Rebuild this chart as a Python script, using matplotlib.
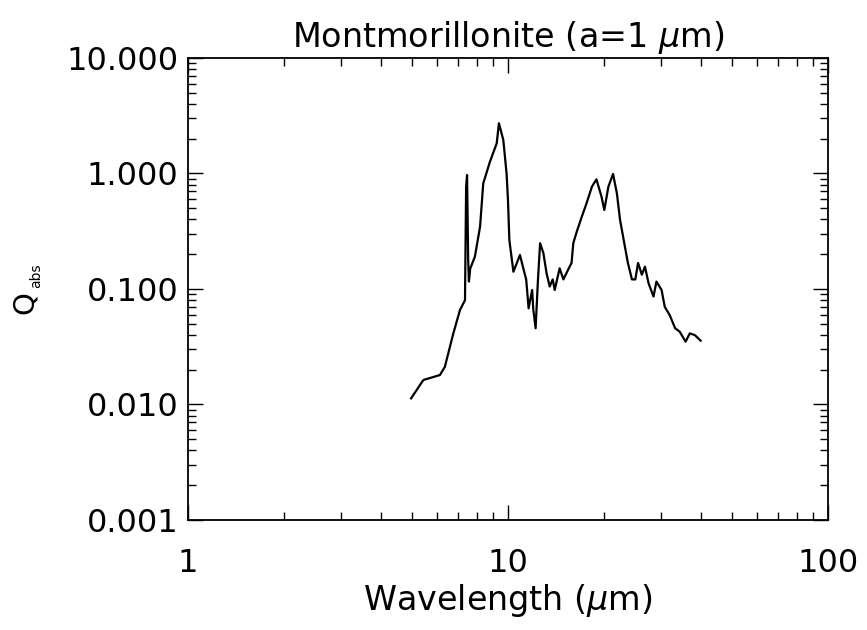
import matplotlib
matplotlib.use("Agg")
import matplotlib.pyplot as plt
from matplotlib.ticker import LogLocator, FormatStrFormatter, FixedLocator, NullFormatter

# wavelength (micron) and absorption efficiency
wavelength = [4.98, 5.44, 6.13, 6.35, 6.75, 7.08, 7.34, 7.40, 7.45, 7.51, 7.55, 7.62,
              7.88, 8.18, 8.37, 8.78, 9.22, 9.37, 9.67, 9.90, 10.0, 10.1, 10.4, 10.9,
              11.2, 11.4, 11.6, 11.9, 12.0, 12.2, 12.4, 12.6, 12.9, 13.2, 13.5, 13.8,
              14.0, 14.5, 14.9, 15.4, 15.8, 16.0, 16.4, 17.0, 17.6, 18.3, 18.9, 19.6,
              20.0, 20.6, 21.3, 21.9, 22.4, 23.2, 23.7, 24.4, 25.0, 25.5, 26.2, 26.8,
              27.5, 28.5, 29.1, 30.2, 30.9, 32.0, 33.3, 34.4, 35.9, 37.0, 38.4, 40.0]
q_abs = [0.0113, 0.0163, 0.018, 0.0212, 0.0413, 0.0658, 0.080, 0.769, 0.97, 0.178, 0.116, 0.15,
         0.19, 0.346, 0.82, 1.26, 1.82, 2.72, 1.95, 1.0, 0.59, 0.265, 0.141, 0.197,
         0.146, 0.121, 0.068, 0.098, 0.066, 0.0457, 0.116, 0.249, 0.205, 0.137, 0.105, 0.121,
         0.098, 0.151, 0.121, 0.146, 0.168, 0.249, 0.313, 0.42, 0.552, 0.77, 0.89, 0.63,
         0.483, 0.77, 0.99, 0.67, 0.396, 0.232, 0.168, 0.121, 0.121, 0.168, 0.133, 0.156,
         0.112, 0.086, 0.116, 0.098, 0.070, 0.0596, 0.0457, 0.0427, 0.035, 0.0413, 0.0398, 0.0357]

x_ticks = [1, 10, 100]
x_ticklabels = ["1", "10", "100"]
y_ticks = [0.001, 0.01, 0.1, 1, 10]

plt.rcParams['font.family'] = ['DejaVu Sans']

fig = plt.figure(figsize=(8.67, 6.3), dpi=100)
ax = fig.add_axes([0.2168, 0.1746, 0.955 - 0.2168, 0.908 - 0.1746])

ax.plot(wavelength, q_abs, color='black', lw=1.6)

ax.set_xscale('log')
ax.set_yscale('log')
ax.set_xlim(1, 100)
ax.set_ylim(0.001, 10)

ax.xaxis.set_major_locator(FixedLocator(x_ticks))
ax.set_xticklabels(x_ticklabels)
ax.xaxis.set_minor_locator(LogLocator(base=10, subs=range(2, 10)))
ax.xaxis.set_minor_formatter(NullFormatter())
ax.yaxis.set_major_locator(FixedLocator(y_ticks))
ax.yaxis.set_major_formatter(FormatStrFormatter('%.3f'))
ax.yaxis.set_minor_locator(LogLocator(base=10, subs=range(2, 10)))
ax.yaxis.set_minor_formatter(NullFormatter())

ax.tick_params(which='both', direction='in', top=True, right=True, width=1.0)
ax.tick_params(which='major', length=11, labelsize=23, pad=7)
ax.tick_params(which='minor', length=6)
ax.tick_params(axis='x', which='major', pad=20)
for s in ax.spines.values():
    s.set_linewidth(1.3)

ax.set_title(r'Montmorillonite (a=1 $\mu$m)', fontsize=24, pad=8)
ax.set_xlabel(r'Wavelength ($\mu$m)', fontsize=24, labelpad=2)

# y label: large Q with a tiny rotated "abs" subscript
fig.text(0.029, 0.52, 'Q', rotation=90, fontsize=21, ha='center', va='center')
fig.text(0.042, 0.562, 'abs', rotation=90, fontsize=10, ha='center', va='center')

fig.savefig('out.png', dpi=100)
